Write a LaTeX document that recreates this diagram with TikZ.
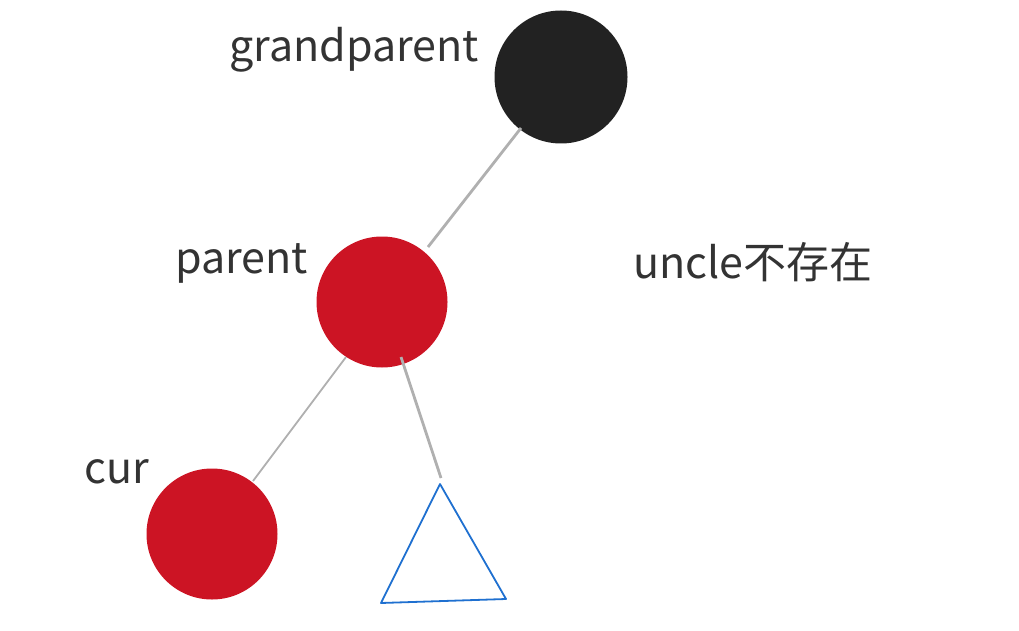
\documentclass[tikz,border=0pt]{standalone}
\usepackage{fontspec}
\setmainfont{Noto Sans CJK SC}
\definecolor{nodeblack}{HTML}{222222}
\definecolor{nodered}{HTML}{CC1424}
\definecolor{edgegray}{HTML}{B0B0B0}
\definecolor{triblue}{HTML}{1F70D0}
\definecolor{txt}{HTML}{333333}
\begin{document}
\begin{tikzpicture}[x=1pt,y=-1pt,
  blacknode/.style={circle,fill=nodeblack,minimum size=133pt,inner sep=0pt},
  rednode/.style={circle,fill=nodered,minimum size=131pt,inner sep=0pt},
  edge/.style={draw=edgegray,line width=2.8pt},
  thinedge/.style={draw=edgegray,line width=1.8pt},
  label/.style={anchor=base west,inner sep=0pt,text=txt,font=\fontsize{43}{50}\selectfont}]
\useasboundingbox (0,0) rectangle (1019,631);
\node[blacknode] (gp) at (561,77) {};
\node[rednode] (p) at (382,302) {};
\node[rednode] (c) at (212,534) {};
\coordinate (t1) at (440,484);
\coordinate (t2) at (381,603);
\coordinate (t3) at (506,599);
\draw[triblue,line width=1.8pt,line join=round] (t1) -- (t2) -- (t3) -- cycle;
\coordinate (tend) at (441,478);
\coordinate (gpa) at (521,128);
\coordinate (pa) at (428,247);
\coordinate (pb) at (346,357);
\coordinate (ca) at (253,481);
\coordinate (pc) at (401,357);
\draw[edge] (gpa) -- (pa);
\draw[thinedge] (pb) -- (ca);
\draw[edge] (pc) -- (tend);
\node[label] (lgp) at (229,62) {grandparent};
\node[label] (lp) at (175,273) {parent};
\node[label] (lc) at (84,483) {cur};
\node[label] (lu) at (633,278) {uncle不存在};
\end{tikzpicture}
\end{document}
